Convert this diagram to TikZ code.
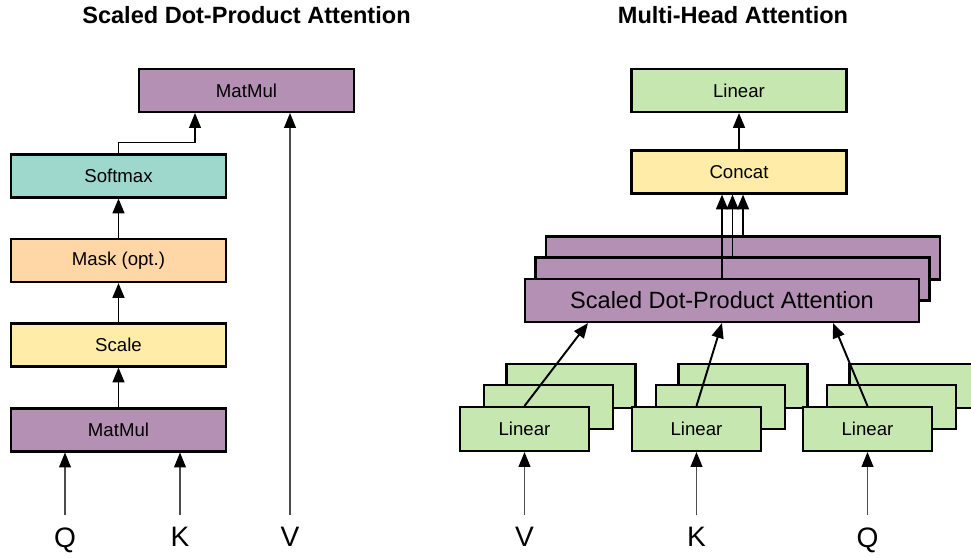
\documentclass[tikz,border=0pt]{standalone}
\usepackage{fontspec}
\setmainfont{Liberation Sans}
\usepackage{xcolor}
\usepackage{tikz}
\usetikzlibrary{arrows.meta}
\definecolor{mulpurple}{RGB}{180,145,180}
\definecolor{softteal}{RGB}{158,216,205}
\definecolor{maskorange}{RGB}{255,214,165}
\definecolor{scaleyellow}{RGB}{255,236,168}
\definecolor{lingreen}{RGB}{199,231,176}
\tikzset{
    box/.style={draw=black, line width=1.2pt, minimum width=4.3cm, minimum height=0.86cm, inner sep=0pt, font=\fontsize{10.6}{12}\selectfont},
    linbox/.style={box, fill=lingreen, minimum width=2.58cm, minimum height=0.88cm},
    sdpabox/.style={box, fill=mulpurple, minimum width=7.88cm, minimum height=0.86cm, font=\fontsize{13.4}{16}\selectfont},
    thickarrow/.style={-{Triangle[width=6.8pt,length=8.5pt]}, line width=1.1pt},
    thinarrow/.style={-{Triangle[width=6.8pt,length=8.5pt]}, line width=0.6pt},
    inarrow/.style={-{Triangle[width=6.8pt,length=8.5pt,color=black]}, line width=0.6pt, draw=black!70},
    letter/.style={anchor=north, inner sep=7pt, font=\fontsize{16}{19}\selectfont},
    headline/.style={font=\bfseries\fontsize{13.4}{16}\selectfont}
}

\begin{document}
\begin{tikzpicture}[x=0.02cm, y=-0.02cm]
    \useasboundingbox (0,0) rectangle (971,558);

    % scaled dot-product attention
    \node[headline] (tleft) at (246.5,15) {Scaled Dot-Product Attention};
    \node[box, fill=mulpurple] (mmtop) at (246.5,90.5) {MatMul};
    \node[box, fill=softteal] (softmax) at (118.5,176) {Softmax};
    \node[box, fill=maskorange] (mask) at (118.5,260.5) {Mask (opt.)};
    \node[box, fill=scaleyellow] (scale) at (118.5,345) {Scale};
    \node[box, fill=mulpurple] (mmbot) at (118.5,430) {MatMul};
    \node[letter] (lq) at (65,515) {Q};
    \node[letter] (lk) at (180,515) {K};
    \node[letter] (lv) at (290,515) {V};

    \draw[thickarrow] (mmbot) -- (scale);
    \draw[thickarrow] (scale) -- (mask);
    \draw[thickarrow] (mask) -- (softmax);
    \draw[thinarrow] (softmax.north) -- ++(0,-11) -| ([xshift=-1.03cm]mmtop.south);
    \draw[inarrow] (lq.north) -- (lq |- mmbot.south);
    \draw[inarrow] (lk.north) -- (lk |- mmbot.south);
    \draw[inarrow] (lv.north) -- (lv |- mmtop.south);

    % multi-head attention
    \node[headline] (tright) at (733,15) {Multi-Head Attention};
    \node[box, fill=lingreen] (linout) at (739,90.5) {Linear};
    \node[box, fill=scaleyellow] (concat) at (739,172) {Concat};
    \node[sdpabox] (sdpa3) at (743,258) {};
    \node[sdpabox] (sdpa2) at (732.5,279) {};
    \node[sdpabox] (sdpa1) at (722,300.5) {Scaled Dot-Product Attention};

    \foreach \n/\t/\x in {v/V/524.5, k/K/696.5, q/Q/867.5} {
        \node[linbox] (lin\n3) at (\x+46.5,386) {};
        \node[linbox] (lin\n2) at (\x+24,407) {};
        \node[linbox] (lin\n1) at (\x,429) {Linear};
        \node[letter] (in\n) at (\x,515) {\t};
    }

    \draw[thickarrow] (linv1.north) -- ([xshift=-2.68cm]sdpa1.south);
    \draw[thickarrow] (link1.north) -- (sdpa1.south);
    \draw[thickarrow] (linq1.north) -- ([xshift=2.22cm]sdpa1.south);
    \foreach \i in {1,2,3}
        \draw[thickarrow] (sdpa\i.north) -- (sdpa\i.north |- concat.south);
    \draw[thickarrow] (concat) -- (linout);
    \foreach \n in {v,k,q}
        \draw[inarrow] (in\n.north) -- (lin\n1.south);
\end{tikzpicture}
\end{document}
